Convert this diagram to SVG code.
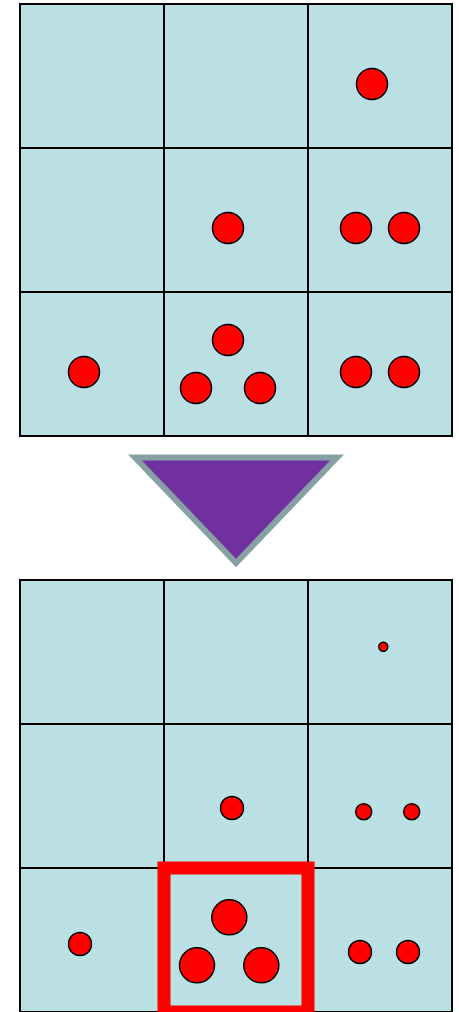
<svg xmlns="http://www.w3.org/2000/svg" width="459" height="1012" viewBox="0 0 459 1012">
<style>
.cell{fill:#BBE0E3;stroke:#000;stroke-width:2}
.dot{fill:#FF0000;stroke:#000;stroke-width:1.5}
</style>
<rect width="459" height="1012" fill="#fff"/>
<g id="top-grid">
<rect class="cell" x="20" y="4" width="144" height="144"/>
<rect class="cell" x="164" y="4" width="144" height="144"/>
<rect class="cell" x="308" y="4" width="144" height="144"/>
<rect class="cell" x="20" y="148" width="144" height="144"/>
<rect class="cell" x="164" y="148" width="144" height="144"/>
<rect class="cell" x="308" y="148" width="144" height="144"/>
<rect class="cell" x="20" y="292" width="144" height="144"/>
<rect class="cell" x="164" y="292" width="144" height="144"/>
<rect class="cell" x="308" y="292" width="144" height="144"/>
</g>
<g id="top-dots">
<circle class="dot" cx="372" cy="84" r="15.5"/>
<circle class="dot" cx="228" cy="228" r="15.5"/>
<circle class="dot" cx="356" cy="228" r="15.5"/>
<circle class="dot" cx="404" cy="228" r="15.5"/>
<circle class="dot" cx="84" cy="372" r="15.5"/>
<circle class="dot" cx="228" cy="340" r="15.5"/>
<circle class="dot" cx="196" cy="388" r="15.5"/>
<circle class="dot" cx="260" cy="388" r="15.5"/>
<circle class="dot" cx="356" cy="372" r="15.5"/>
<circle class="dot" cx="404" cy="372" r="15.5"/>
</g>
<g id="arrow">
<polygon points="135,457.5 337,457.5 236,563" fill="#7030A0" stroke="#87A0A3" stroke-width="6" stroke-linejoin="miter"/>
</g>
<g id="bottom-grid">
<rect class="cell" x="20" y="580" width="144" height="144"/>
<rect class="cell" x="164" y="580" width="144" height="144"/>
<rect class="cell" x="308" y="580" width="144" height="144"/>
<rect class="cell" x="20" y="724" width="144" height="144"/>
<rect class="cell" x="164" y="724" width="144" height="144"/>
<rect class="cell" x="308" y="724" width="144" height="144"/>
<rect class="cell" x="20" y="868" width="144" height="144"/>
<rect class="cell" x="164" y="868" width="144" height="144"/>
<rect class="cell" x="308" y="868" width="144" height="144"/>
</g>
<g id="bottom-dots">
<circle class="dot" cx="383.3" cy="646.7" r="4.5"/>
<circle class="dot" cx="232" cy="808" r="11.5"/>
<circle class="dot" cx="363.7" cy="811.7" r="8"/>
<circle class="dot" cx="411.7" cy="811.7" r="8"/>
<circle class="dot" cx="80" cy="944" r="11.5"/>
<circle class="dot" cx="229.3" cy="917.3" r="17.5"/>
<circle class="dot" cx="197" cy="965.3" r="17.5"/>
<circle class="dot" cx="261.3" cy="965.3" r="17.5"/>
<circle class="dot" cx="360" cy="952" r="11.5"/>
<circle class="dot" cx="408" cy="952" r="11.5"/>
</g>
<g id="highlight">
<rect x="164" y="868" width="144" height="144" fill="none" stroke="#FF0000" stroke-width="13"/>
</g>
</svg>
